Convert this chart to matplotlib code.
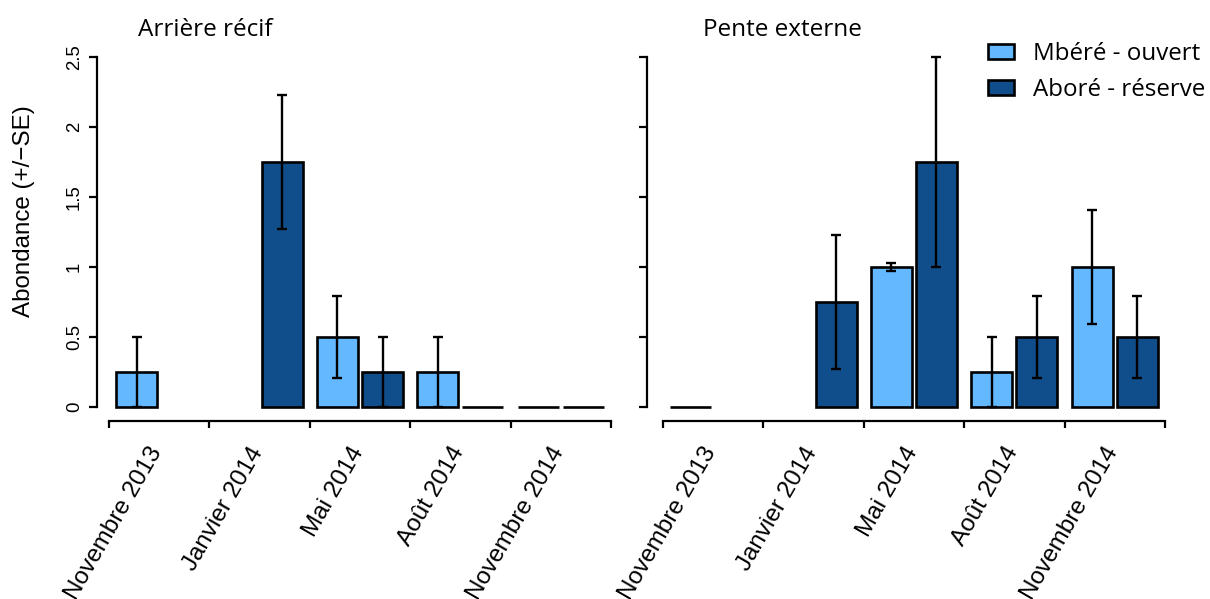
import numpy as np
import matplotlib
matplotlib.use("Agg")
import matplotlib.pyplot as plt
from matplotlib.patches import Patch

# ---------------- data ----------------
months = ["Novembre 2013", "Janvier 2014", "Mai 2014", "Août 2014", "Novembre 2014"]
series = ["Mbéré - ouvert", "Aboré - réserve"]
panels = ["Arrière récif", "Pente externe"]

arriere_mbere = [0.25, np.nan, 0.5, 0.25, 0.0]
arriere_mbere_se = [0.25, np.nan, 0.29, 0.25, 0.0]
arriere_abore = [np.nan, 1.75, 0.25, 0.0, 0.0]
arriere_abore_se = [np.nan, 0.48, 0.25, 0.0, 0.0]

pente_mbere = [0.0, np.nan, 1.0, 0.25, 1.0]
pente_mbere_se = [0.0, np.nan, 0.03, 0.25, 0.41]
pente_abore = [np.nan, 0.75, 1.75, 0.5, 0.5]
pente_abore_se = [np.nan, 0.48, 0.75, 0.29, 0.29]

yticks = [0, 0.5, 1, 1.5, 2, 2.5]
ytick_labels = ["0", "0.5", "1", "1.5", "2", "2.5"]
ylabel = "Abondance (+/\u2212SE)"
colors = ["#63B8FF", "#104E8B"]

# ---------------- layout ----------------
W, H = 1210, 599
fig = plt.figure(figsize=(W / 100, H / 100), dpi=100)

PXU_X = 41.0      # pixels per bar width
PXU_Y = 140.0     # pixels per y unit
group_step = 2.45
inner = 1.1
bw = 1.0
ARIAL = ["Liberation Sans", "DejaVu Sans"]
MYRIAD = ["Open Sans", "DejaVu Sans"]


def make_axes(spine_px, first_bar_px):
    top_px, bot_px, zero_px, width_px = 40, 430, 407, 523
    x0 = -(first_bar_px - spine_px) / PXU_X
    ax = fig.add_axes([spine_px / W, 1 - bot_px / H, width_px / W, (bot_px - top_px) / H])
    ax.set_xlim(x0, x0 + width_px / PXU_X)
    ax.set_ylim(-(bot_px - zero_px) / PXU_Y, (zero_px - top_px) / PXU_Y)
    ax.patch.set_alpha(0)
    return ax


def px_to_y(px):
    return -(px - 407) / PXU_Y


groups = np.arange(len(months)) * group_step
ticks_x = np.arange(len(months) + 1) * group_step - (group_step - 2 * bw - (inner - bw)) / 2

panel_data = [
    ([arriere_mbere, arriere_abore], [arriere_mbere_se, arriere_abore_se]),
    ([pente_mbere, pente_abore], [pente_mbere_se, pente_abore_se]),
]
axes_geom = [(97, 116), (647, 670)]
title_px = [138, 703]

handles = []
for p, ((vals_list, se_list), (spine_px, first_px)) in enumerate(zip(panel_data, axes_geom)):
    ax = make_axes(spine_px, first_px)
    for j, (vals, ses) in enumerate(zip(vals_list, se_list)):
        v = np.asarray(vals, float)
        s = np.asarray(ses, float)
        m = ~np.isnan(v)
        ax.bar(groups[m] + j * inner, v[m], width=bw, align="edge",
               color=colors[j], edgecolor="black", linewidth=1.9,
               clip_on=False, zorder=2)
        em = m & (np.nan_to_num(s) > 0)
        ax.errorbar(groups[em] + j * inner + bw / 2, v[em], yerr=s[em], fmt="none",
                    ecolor="black", elinewidth=1.7, capsize=3.3, capthick=1.7,
                    zorder=3, clip_on=False)
        if p == 0:
            handles.append(Patch(facecolor=colors[j], edgecolor="black", linewidth=1.9))

    for side in ("top", "right"):
        ax.spines[side].set_visible(False)
    ax.spines["left"].set_bounds(yticks[0], yticks[-1])
    ax.spines["left"].set_linewidth(1.6)
    ax.spines["bottom"].set_position(("data", px_to_y(421)))
    ax.spines["bottom"].set_bounds(ticks_x[0], ticks_x[-1])
    ax.spines["bottom"].set_linewidth(1.6)
    ax.set_yticks(yticks)
    if p == 0:
        ax.set_yticklabels(ytick_labels, rotation=90, va="center", fontsize=13.4,
                           family=ARIAL)
    else:
        ax.set_yticklabels([])
    ax.tick_params(axis="y", direction="out", length=6, width=1.6, pad=4)
    ax.set_xticks(ticks_x)
    ax.set_xticklabels([])
    ax.tick_params(axis="x", direction="out", length=5, width=1.6)

    for g, lab in enumerate(months):
        ax.text(groups[g] + bw + (inner - bw) / 2 - 0.27, px_to_y(443), lab,
                rotation=60, rotation_mode="anchor", ha="right", va="top",
                fontsize=17.5, family=ARIAL, clip_on=False)

    fig.text(title_px[p] / W, 1 - 36 / H, panels[p], fontsize=17.5, family=MYRIAD,
             ha="left", va="baseline")

fig.text(24 / W, 1 - 211 / H, ylabel, rotation=90, ha="center", va="center",
         fontsize=17.4, family=ARIAL)

fig.legend(handles, series, loc="upper left", bbox_to_anchor=(988 / W, 1 - 42 / H),
           frameon=False, prop={"family": MYRIAD, "size": 17.4},
           handlelength=1.07, handleheight=0.58, handletextpad=0.78,
           labelspacing=0.48, borderpad=0, borderaxespad=0)

fig.savefig("out.png", dpi=100)
